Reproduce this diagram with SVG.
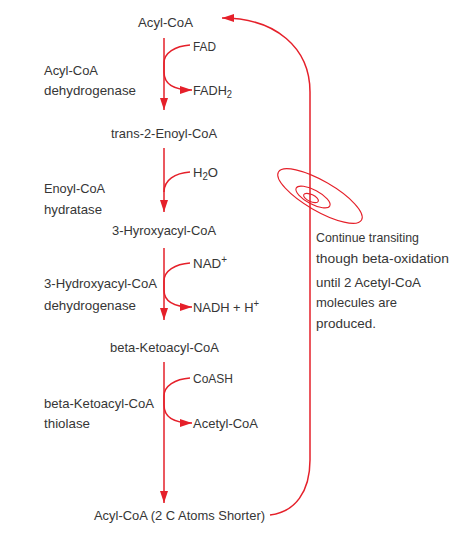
<svg xmlns="http://www.w3.org/2000/svg" width="474" height="535" viewBox="0 0 474 535">
<style>
text{font-family:"Liberation Sans",Arial,sans-serif;font-size:13.5px;fill:#363636}
.ln{fill:none;stroke:#e5202a;stroke-width:1.5}
.th{fill:none;stroke:#e5202a;stroke-width:1.1}
</style>
<defs>
<marker id="ah" markerUnits="userSpaceOnUse" markerWidth="12" markerHeight="8" refX="12" refY="4" orient="auto">
<path d="M0,0 L12,4 L0,8 z" fill="#e5202a"/>
</marker>
</defs>
<rect width="474" height="535" fill="#fff"/>
<g id="connectors">
<path class="ln" d="M164,38 L164,110" marker-end="url(#ah)"/>
<path class="ln" d="M164,148 L164,212" marker-end="url(#ah)"/>
<path class="ln" d="M164,248 L164,320" marker-end="url(#ah)"/>
<path class="ln" d="M164,362 L164,503" marker-end="url(#ah)"/>
<path class="ln" d="M190,45 C175,46 164,53 164,63 L164,72 C164,83 172,90 192,90" marker-end="url(#ah)"/>
<path class="ln" d="M190,172 C175,173 164,180 164,192"/>
<path class="ln" d="M190,263 C175,264 164,271 164,281 L164,290 C164,301 172,307 192,307" marker-end="url(#ah)"/>
<path class="ln" d="M190,378 C175,379 164,386 164,396 L164,405 C164,416 172,423 192,423" marker-end="url(#ah)"/>
<path class="ln" d="M270,515 C295,512 310,492 310,460 L310,92 C310,48 276,18 222,18" marker-end="url(#ah)"/>
<g id="spiral">
<ellipse class="th" cx="320" cy="196" rx="48" ry="15" transform="rotate(30 320 196)"/>
<ellipse class="th" cx="313" cy="197" rx="19" ry="7" transform="rotate(28 313 197)"/>
<ellipse class="th" cx="311" cy="198" rx="8" ry="3.5" transform="rotate(25 311 198)"/>
</g>
</g>
<g id="n-acyl"><text x="138" y="27" textLength="55" lengthAdjust="spacingAndGlyphs">Acyl-CoA</text></g>
<g id="n-fad"><text x="193" y="51" textLength="23" lengthAdjust="spacingAndGlyphs">FAD</text></g>
<g id="n-fadh2"><text x="193" y="95" textLength="39" lengthAdjust="spacingAndGlyphs">FADH<tspan font-size="10" dy="3">2</tspan></text></g>
<g id="e-acyl"><text x="44" y="75" textLength="54" lengthAdjust="spacingAndGlyphs">Acyl-CoA</text><text x="44" y="95" textLength="92" lengthAdjust="spacingAndGlyphs">dehydrogenase</text></g>
<g id="n-enoyl"><text x="111" y="138" textLength="106" lengthAdjust="spacingAndGlyphs">trans-2-Enoyl-CoA</text></g>
<g id="n-h2o"><text x="193" y="177" textLength="25" lengthAdjust="spacingAndGlyphs">H<tspan font-size="10" dy="3">2</tspan><tspan dy="-3">O</tspan></text></g>
<g id="e-hydratase"><text x="44" y="193" textLength="61" lengthAdjust="spacingAndGlyphs">Enoyl-CoA</text><text x="44" y="214" textLength="58" lengthAdjust="spacingAndGlyphs">hydratase</text></g>
<g id="n-hydroxy"><text x="112" y="235" textLength="104" lengthAdjust="spacingAndGlyphs">3-Hyroxyacyl-CoA</text></g>
<g id="n-nad"><text x="193" y="268" textLength="34" lengthAdjust="spacingAndGlyphs">NAD<tspan font-size="10" dy="-5">+</tspan></text></g>
<g id="n-nadh"><text x="193" y="312" textLength="66" lengthAdjust="spacingAndGlyphs">NADH + H<tspan font-size="10" dy="-5">+</tspan></text></g>
<g id="e-hdh"><text x="44" y="288" textLength="113" lengthAdjust="spacingAndGlyphs">3-Hydroxyacyl-CoA</text><text x="44" y="310" textLength="92" lengthAdjust="spacingAndGlyphs">dehydrogenase</text></g>
<g id="n-keto"><text x="110" y="352" textLength="109" lengthAdjust="spacingAndGlyphs">beta-Ketoacyl-CoA</text></g>
<g id="n-coash"><text x="193" y="383" textLength="40" lengthAdjust="spacingAndGlyphs">CoASH</text></g>
<g id="e-thiolase"><text x="44" y="408" textLength="110" lengthAdjust="spacingAndGlyphs">beta-Ketoacyl-CoA</text><text x="44" y="428" textLength="46" lengthAdjust="spacingAndGlyphs">thiolase</text></g>
<g id="n-acetyl"><text x="193" y="428" textLength="65" lengthAdjust="spacingAndGlyphs">Acetyl-CoA</text></g>
<g id="n-short"><text x="94" y="520" textLength="171" lengthAdjust="spacingAndGlyphs">Acyl-CoA (2 C Atoms Shorter)</text></g>
<g id="note">
<text x="316" y="242" textLength="103" lengthAdjust="spacingAndGlyphs">Continue transiting</text>
<text x="316" y="263" textLength="133" lengthAdjust="spacingAndGlyphs">though beta-oxidation</text>
<text x="316" y="287" textLength="105" lengthAdjust="spacingAndGlyphs">until 2 Acetyl-CoA</text>
<text x="316" y="307" textLength="81" lengthAdjust="spacingAndGlyphs">molecules are</text>
<text x="316" y="328" textLength="60" lengthAdjust="spacingAndGlyphs">produced.</text>
</g>
</svg>
